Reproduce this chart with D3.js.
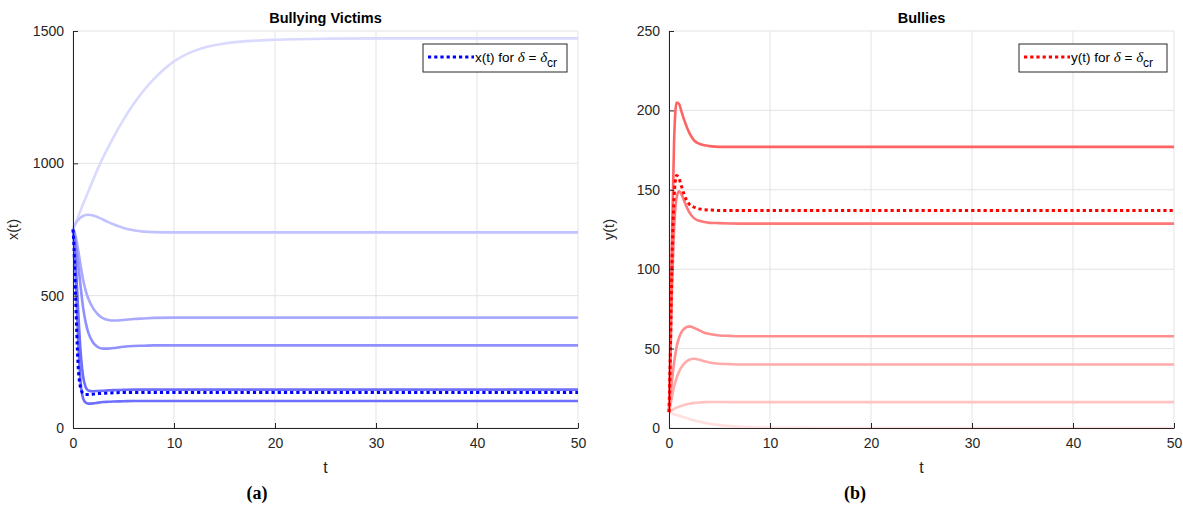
<!DOCTYPE html>
<html>
<head>
<meta charset="utf-8">
<script src="https://cdn.jsdelivr.net/npm/d3@7"></script>
<style>
  html, body { margin: 0; padding: 0; background: #fff; }
  svg { display: block; }
  .tick text { font-family: "Liberation Sans", Arial, sans-serif; font-size: 14px; fill: #262626; }
</style>
</head>
<body>
<svg id="fig" width="1183" height="507"></svg>
<script>
// Shared time samples for all trajectories
const times = [0, 0.1, 0.25, 0.5, 0.75, 1, 1.25, 1.5, 2, 2.5, 3, 3.5, 4, 5, 6, 7, 8, 10, 12, 15, 20, 25, 30, 40, 50];

// Victims x(t), one trajectory per δ value
const victimsA = [750, 760, 774, 798, 822, 846, 869, 892, 938, 983, 1024, 1061, 1098, 1165, 1224, 1275, 1318, 1385, 1425, 1453, 1467, 1471, 1472, 1472, 1472];
const victimsB = [750, 760, 772, 785, 795, 801, 805, 806, 803, 796, 787, 778, 770, 756, 747, 742, 740, 739, 739, 739, 739, 739, 739, 739, 739];
const victimsC = [750, 745, 725, 675, 615, 560, 520, 490, 452, 428, 414, 408, 406, 408, 412, 414, 416, 417, 417, 417, 417, 417, 417, 417, 417];
const victimsD = [750, 740, 705, 625, 535, 455, 400, 362, 322, 305, 300, 300, 302, 307, 310, 311, 312, 312, 312, 312, 312, 312, 312, 312, 312];
const victimsE = [750, 720, 640, 450, 290, 195, 155, 142, 139, 140, 141, 142, 143, 144, 145, 145, 145, 145, 145, 145, 145, 145, 145, 145, 145];
const victimsCrit = [750, 680, 500, 240, 152, 131, 127, 127, 128, 130, 131, 132, 133, 134, 134, 134, 134, 134, 134, 134, 134, 134, 134, 134, 134];
const victimsG = [750, 700, 590, 340, 175, 112, 96, 92, 93, 96, 98, 99, 100, 101, 102, 102, 102, 102, 102, 102, 102, 102, 102, 102, 102];

// Bullies y(t), one trajectory per δ value
const bulliesA = [10, 40, 105, 180, 205, 204, 199, 194, 186, 181, 179, 178, 177.5, 177, 177, 177, 177, 177, 177, 177, 177, 177, 177, 177, 177];
const bulliesCrit = [10, 35, 90, 145, 159, 157, 152, 147, 141, 139, 138, 137.5, 137.3, 137, 137, 137, 137, 137, 137, 137, 137, 137, 137, 137, 137];
const bulliesC = [10, 30, 75, 125, 145, 149, 147, 143, 136, 132, 130.5, 129.7, 129.2, 129, 128.8, 128.7, 128.7, 128.7, 128.7, 128.7, 128.7, 128.7, 128.7, 128.7, 128.7];
const bulliesD = [10, 17, 27, 41, 51, 57, 60.5, 62.5, 64, 63, 61.5, 60, 59.2, 58.3, 58, 57.8, 57.8, 57.8, 57.8, 57.8, 57.8, 57.8, 57.8, 57.8, 57.8];
const bulliesE = [10, 13, 18, 26, 31.5, 35.5, 38.5, 40.5, 43, 43.6, 43, 42, 41.3, 40.5, 40.2, 40, 40, 40, 40, 40, 40, 40, 40, 40, 40];
const bulliesF = [10, 10.4, 11, 12, 12.8, 13.4, 14, 14.5, 15.3, 15.8, 16.1, 16.3, 16.4, 16.4, 16.3, 16.3, 16.3, 16.3, 16.3, 16.3, 16.3, 16.3, 16.3, 16.3, 16.3];
const bulliesG = [10, 9.7, 9.3, 8.7, 8.2, 7.7, 7.2, 6.7, 5.7, 4.8, 4.0, 3.3, 2.7, 1.8, 1.2, 0.8, 0.5, 0.2, 0.1, 0, 0, 0, 0, 0, 0];

// Tick values
const tTicks = [0, 10, 20, 30, 40, 50];
const xTicks = [0, 500, 1000, 1500];
const yTicks = [0, 50, 100, 150, 200, 250];

const svg = d3.select("#fig");
const SANS = '"Liberation Sans", Arial, Helvetica, sans-serif';
const SERIF = '"Liberation Serif", "Times New Roman", serif';

function panel(opts) {
  const x = d3.scaleLinear().domain([0, 50]).range([opts.left, opts.left + 505]);
  const y = d3.scaleLinear().domain(opts.yDomain).range([428, 31]);
  const g = svg.append("g");

  // grid
  const grid = g.append("g").attr("stroke", "#e3e3e3").attr("stroke-width", 1);
  tTicks.forEach(t => grid.append("line")
    .attr("x1", x(t)).attr("x2", x(t)).attr("y1", y.range()[0]).attr("y2", y.range()[1]));
  opts.yTicks.forEach(v => grid.append("line")
    .attr("x1", x(0)).attr("x2", x(50)).attr("y1", y(v)).attr("y2", y(v)));

  // curves
  const line = d3.line().x((d, i) => x(times[i])).y(d => y(d)).curve(d3.curveMonotoneX);
  opts.series.forEach(s => {
    g.append("path")
      .datum(s.values)
      .attr("fill", "none")
      .attr("stroke", s.color)
      .attr("stroke-width", s.dotted ? 3 : 2.6)
      .attr("stroke-dasharray", s.dotted ? "3.2,3" : null)
      .attr("stroke-linejoin", "round")
      .attr("d", line);
  });

  // axes with inward ticks
  const fmt = d3.format("d");
  const ax = g.append("g").attr("transform", `translate(0,${y(opts.yDomain[0])})`)
    .call(d3.axisBottom(x).tickValues(tTicks).tickFormat(fmt).tickSizeInner(-5).tickSizeOuter(0).tickPadding(10));
  const ay = g.append("g").attr("transform", `translate(${x(0)},0)`)
    .call(d3.axisLeft(y).tickValues(opts.yTicks).tickFormat(fmt).tickSizeInner(-5).tickSizeOuter(0).tickPadding(9));
  [ax, ay].forEach(a => {
    a.select(".domain").attr("stroke", "#262626");
    a.selectAll(".tick line").attr("stroke", "#262626");
  });

  // title and labels
  g.append("text").attr("x", x(25)).attr("y", 23)
    .attr("text-anchor", "middle").attr("font-family", SANS)
    .attr("font-weight", "bold").attr("font-size", 14.5).attr("fill", "#000")
    .text(opts.title);
  g.append("text").attr("x", x(25)).attr("y", 473)
    .attr("text-anchor", "middle").attr("font-family", SANS)
    .attr("font-size", 16).attr("fill", "#262626").text("t");
  g.append("text")
    .attr("transform", `translate(${x(0) - 55},${(y.range()[0] + y.range()[1]) / 2}) rotate(-90)`)
    .attr("text-anchor", "middle").attr("font-family", SANS)
    .attr("font-size", 14.5).attr("fill", "#262626").text(opts.ylabel);
  g.append("text").attr("x", opts.figLabelX).attr("y", 499)
    .attr("text-anchor", "middle").attr("font-family", SERIF)
    .attr("font-weight", "bold").attr("font-size", 18).attr("fill", "#000")
    .text(opts.figLabel);

  // legend
  const lg = g.append("g").attr("transform", `translate(${opts.legendX},44)`);
  lg.append("rect").attr("x", 0).attr("y", 0).attr("width", opts.legendW).attr("height", 28)
    .attr("fill", "#fff").attr("stroke", "#262626").attr("stroke-width", 1);
  lg.append("line").attr("x1", 5).attr("x2", 51).attr("y1", 13).attr("y2", 13)
    .attr("stroke", opts.legendColor).attr("stroke-width", 3).attr("stroke-dasharray", "3.2,3");
  const lt = lg.append("text").attr("x", 52).attr("y", 17.5)
    .attr("font-family", SANS).attr("font-size", 13.5).attr("fill", "#000");
  lt.append("tspan").text(opts.legendVar + " for ");
  lt.append("tspan").attr("font-family", SERIF).attr("font-style", "italic").attr("font-size", 15).text("δ");
  lt.append("tspan").text(" = ");
  lt.append("tspan").attr("font-family", SERIF).attr("font-style", "italic").attr("font-size", 15).text("δ");
  lt.append("tspan").attr("dy", 5).attr("font-size", 12).text("cr");
}

panel({
  left: 73,
  yDomain: [0, 1500],
  yTicks: xTicks,
  title: "Bullying Victims",
  ylabel: "x(t)",
  figLabel: "(a)",
  figLabelX: 257,
  legendX: 423,
  legendW: 144,
  legendColor: "#0000ff",
  legendVar: "x(t)",
  series: [
    { values: victimsA, color: "#dadaff" },
    { values: victimsB, color: "#c2c2ff" },
    { values: victimsC, color: "#a9a9ff" },
    { values: victimsD, color: "#9090ff" },
    { values: victimsE, color: "#6e6eff" },
    { values: victimsG, color: "#6e6eff" },
    { values: victimsCrit, color: "#0000ff", dotted: true }
  ]
});

panel({
  left: 669,
  yDomain: [0, 250],
  yTicks: yTicks,
  title: "Bullies",
  ylabel: "y(t)",
  figLabel: "(b)",
  figLabelX: 855,
  legendX: 1019,
  legendW: 148,
  legendColor: "#ff0000",
  legendVar: "y(t)",
  series: [
    { values: bulliesG, color: "#ffdfdf" },
    { values: bulliesF, color: "#ffc3c3" },
    { values: bulliesE, color: "#ffabab" },
    { values: bulliesD, color: "#ff8e8e" },
    { values: bulliesC, color: "#ff7878" },
    { values: bulliesA, color: "#ff6464" },
    { values: bulliesCrit, color: "#ff0000", dotted: true }
  ]
});
</script>
</body>
</html>
